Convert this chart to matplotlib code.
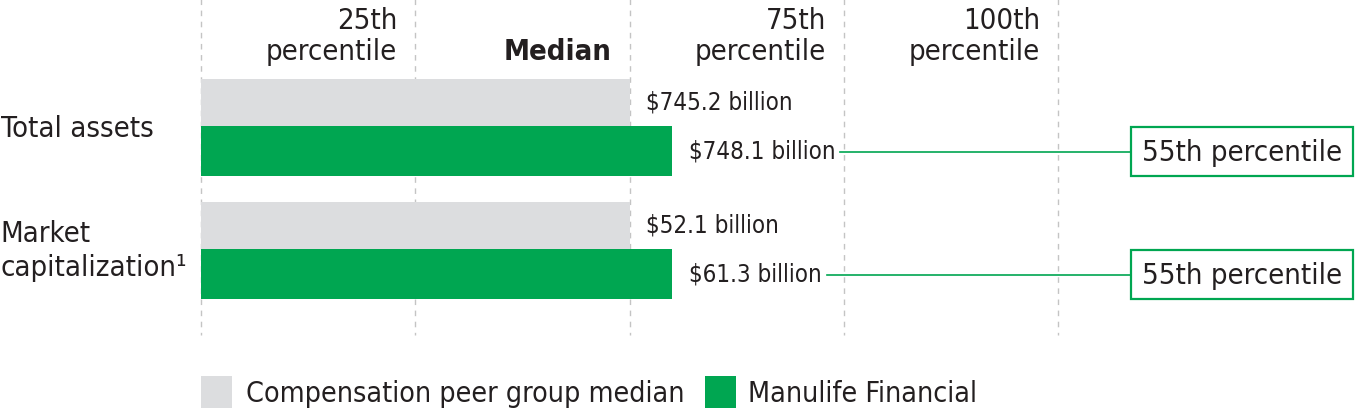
import matplotlib
matplotlib.use("Agg")
import matplotlib.pyplot as plt
from matplotlib.patches import Rectangle

# data
metrics = ["Total assets", "Market\ncapitalization\u00b9"]
peer_pct = [50, 50]
manulife_pct = [55, 55]
peer_labels = ["$745.2 billion", "$52.1 billion"]
manulife_labels = ["$748.1 billion", "$61.3 billion"]
rank_labels = ["55th percentile", "55th percentile"]
grid_ticks = [0, 25, 50, 75, 100]
tick_labels = ["", "25th\npercentile", "Median", "75th\npercentile", "100th\npercentile"]
legend_labels = ["Compensation peer group median", "Manulife Financial"]

GRAY = "#dcdddf"
GREEN = "#00a651"
TXT = "#231f20"
plt.rcParams['font.family'] = ['DejaVu Sans']
plt.rcParams['font.stretch'] = 'condensed'

W, H = 1355, 414
fig = plt.figure(figsize=(W / 100, H / 100), dpi=100)
ax = fig.add_axes([0, 0, 1, 1])
x0, x100 = 201, 1058
ppu = (x100 - x0) / 100.0
ax.set_xlim(-x0 / ppu, (W - x0) / ppu)
ax.set_ylim(H, 0)
ax.axis("off")

# dashed percentile lines
for t in grid_ticks:
    ax.plot([t, t], [0, 336], color="#c4c4c4", lw=1, ls=(0, (4, 4)), zorder=0)

# header labels
for t, lab in zip(grid_ticks, tick_labels):
    if not lab:
        continue
    bold = lab == "Median"
    ax.text(t - 2.1, 66, lab, ha="right", va="bottom", fontsize=21, color=TXT,
            fontweight="bold" if bold else "normal", linespacing=1.15)

gray_top = [80, 203]
fig.canvas.draw()
rend = fig.canvas.get_renderer()
inv = ax.transData.inverted()
for i in range(len(metrics)):
    gy = gray_top[i]
    ax.barh(gy + 23.5, peer_pct[i], height=47, left=0, color=GRAY, zorder=1)
    ax.barh(gy + 47 + 25, manulife_pct[i], height=50, left=0, color=GREEN, zorder=2)
    ax.text(peer_pct[i] + 1.9, gy + 23, peer_labels[i], ha="left", va="center",
            fontsize=17.3, color=TXT)
    t = ax.text(manulife_pct[i] + 1.9, gy + 72, manulife_labels[i], ha="left",
                va="center", fontsize=17.3, color=TXT)
    bb = t.get_window_extent(renderer=rend)
    xend = inv.transform((bb.x1, 0))[0] + 0.6
    xbox = (1131 - x0) / ppu
    ax.plot([xend, xbox], [gy + 73, gy + 73], color=GREEN, lw=1.2)
    ax.add_patch(Rectangle((xbox, gy + 47.5), (1353 - 1131) / ppu, 49,
                           fill=False, edgecolor=GREEN, lw=1.6))
    ax.text(xbox + (1353 - 1131) / ppu / 2, gy + 73, rank_labels[i], ha="center",
            va="center", fontsize=21, color=TXT)

ax.text(-x0 / ppu + 0.1, 129, metrics[0], ha="left", va="center", fontsize=21, color=TXT)
ax.text(-x0 / ppu + 0.1, 251, metrics[1], ha="left", va="center", fontsize=21,
        color=TXT, linespacing=1.3)

# legend
for lx, tx, col, lab in [(201, 246, GRAY, legend_labels[0]), (705, 748, GREEN, legend_labels[1])]:
    ax.add_patch(Rectangle(((lx - x0) / ppu, 377), 31 / ppu, 32, color=col, lw=0))
    ax.text((tx - x0) / ppu, 394, lab, ha="left", va="center", fontsize=20.5, color=TXT)

fig.savefig("out.png", dpi=100)
